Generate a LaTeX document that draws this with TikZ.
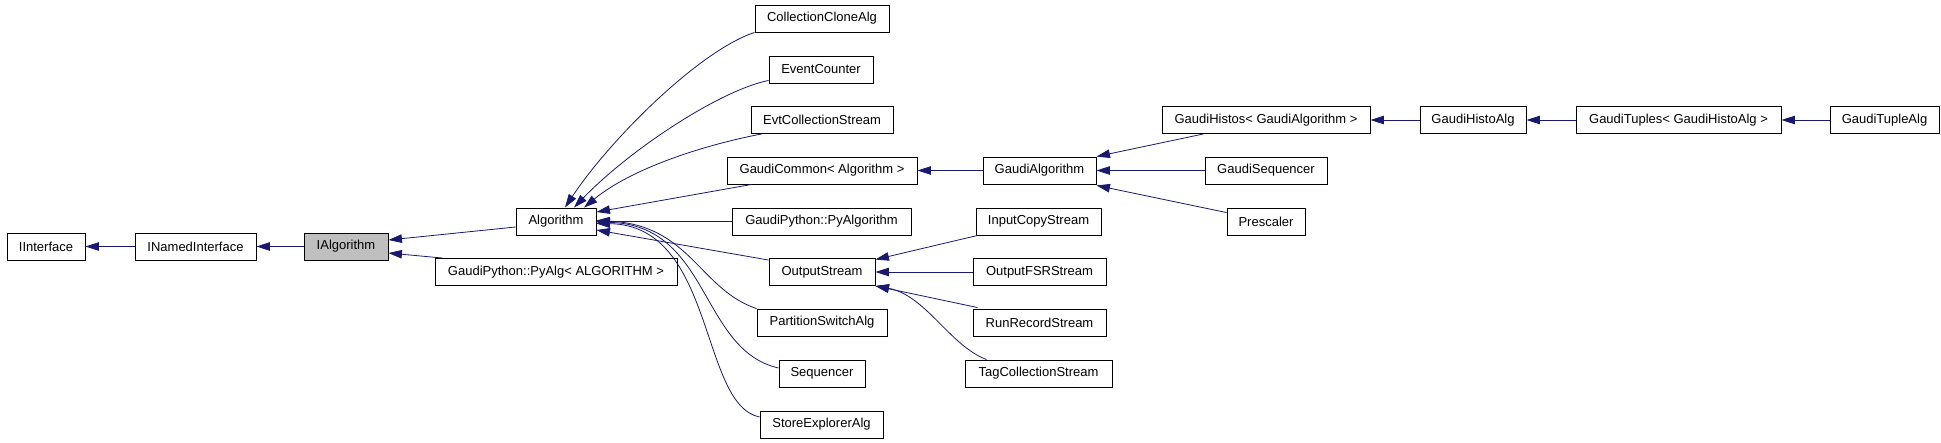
\documentclass[tikz,border=0pt]{standalone}
\usepackage{fontspec}
\setmainfont{Liberation Sans}
\usetikzlibrary{arrows.meta}
\definecolor{edgecol}{HTML}{191970}
\definecolor{hilite}{HTML}{BFBFBF}
\tikzset{
  cls/.style={draw=black, line width=0.9pt, minimum height=27pt, inner sep=0pt,
              font=\fontsize{13}{15}\selectfont},
  edge/.style={draw=edgecol, line width=0.8pt, -{Triangle[length=13.5pt,width=8.5pt]}}
}
\begin{document}
\begin{tikzpicture}[x=1pt,y=-1pt]
\fill[white] (0,0) rectangle (1941,442);
\useasboundingbox (0,0) rectangle (1941,442);
% nodes
\node[cls, minimum width=78pt] (iint) at (46,246.5) {IInterface};
\node[cls, minimum width=121pt] (inamed) at (195.5,246.5) {INamedInterface};
\node[cls, minimum width=84pt, fill=hilite] (ialg) at (346,246.5) {IAlgorithm};
\node[cls, minimum width=80pt] (alg) at (556,221.5) {Algorithm};
\node[cls, minimum width=242pt] (pyalg) at (556,272) {GaudiPython::PyAlg< ALGORITHM >};
\node[cls, minimum width=134pt] (cca) at (822,18.5) {CollectionCloneAlg};
\node[cls, minimum width=104pt] (ec) at (821,69.5) {EventCounter};
\node[cls, minimum width=142pt] (evc) at (822,120) {EvtCollectionStream};
\node[cls, minimum width=190pt] (gc) at (822,170.5) {GaudiCommon< Algorithm >};
\node[cls, minimum width=179pt] (pyalgo) at (821.5,221.5) {GaudiPython::PyAlgorithm};
\node[cls, minimum width=106pt] (os) at (822,272) {OutputStream};
\node[cls, minimum width=130pt] (psa) at (822,322.5) {PartitionSwitchAlg};
\node[cls, minimum width=86pt] (seq) at (822,373.5) {Sequencer};
\node[cls, minimum width=123pt] (sea) at (821.5,424.5) {StoreExplorerAlg};
\node[cls, minimum width=113pt] (ga) at (1039.5,170.5) {GaudiAlgorithm};
\node[cls, minimum width=125pt] (ics) at (1038.5,221.5) {InputCopyStream};
\node[cls, minimum width=133pt] (ofsr) at (1039.5,272) {OutputFSRStream};
\node[cls, minimum width=133pt] (rrs) at (1039.5,322.5) {RunRecordStream};
\node[cls, minimum width=147pt] (tcs) at (1038.5,373.5) {TagCollectionStream};
\node[cls, minimum width=208pt] (gh) at (1266,120) {GaudiHistos< GaudiAlgorithm >};
\node[cls, minimum width=122pt] (gs) at (1266,170.5) {GaudiSequencer};
\node[cls, minimum width=78pt] (pres) at (1266,221.5) {Prescaler};
\node[cls, minimum width=106pt] (gha) at (1473,120) {GaudiHistoAlg};
\node[cls, minimum width=205pt] (gt) at (1678.5,120) {GaudiTuples< GaudiHistoAlg >};
\node[cls, minimum width=109pt] (gta) at (1884.5,120) {GaudiTupleAlg};
% edges (child -> base class)
\draw[edge] (inamed.west) -- (iint.east);
\draw[edge] (ialg.west) -- (inamed.east);
\draw[edge] ([shift={(0,5.5)}]alg.west) -- ([shift={(0,-6.5)}]ialg.east);
\draw[edge] ([shift={(8,0)}]pyalg.north west) -- ([shift={(0,6.5)}]ialg.east);
\draw[edge] (cca.south west) .. controls +(-55,18) and +(45,-68) .. ([shift={(9,0)}]alg.north);
\draw[edge] ([shift={(0,-3)}]ec.south west) .. controls +(-49,10) and +(56,-58) .. ([shift={(18,0)}]alg.north);
\draw[edge] ([shift={(11,0)}]evc.south west) .. controls +(-62,12) and +(46,-38) .. ([shift={(28,0)}]alg.north);
\draw[edge] ([shift={(25,0)}]gc.south west) -- ([shift={(0,-9.5)}]alg.east);
\draw[edge] (pyalgo.west) -- (alg.east);
\draw[edge] ([shift={(0,2)}]os.north west) -- ([shift={(0,8.5)}]alg.east);
\draw[edge] (psa.north west) .. controls +(-57,-19) and +(94,4.5) .. ([shift={(0,-1)}]alg.east);
\draw[edge] ([shift={(0,-5.5)}]seq.west) .. controls +(-79,-18) and +(114,3) .. ([shift={(0,0.5)}]alg.east);
\draw[edge] ([shift={(0,-7.5)}]sea.west) .. controls +(-60,-12) and +(119,1.5) .. ([shift={(0,2)}]alg.east);
\draw[edge] (ga.west) -- (gc.east);
\draw[edge] ([shift={(42,0)}]gh.south west) -- (ga.north east);
\draw[edge] (gs.west) -- (ga.east);
\draw[edge] ([shift={(0,5)}]pres.north west) -- ([shift={(0,1)}]ga.south east);
\draw[edge] ([shift={(2,0)}]ics.south west) -- ([shift={(0,1.5)}]os.north east);
\draw[edge] (ofsr.west) -- (os.east);
\draw[edge] ([shift={(5,-1)}]rrs.north west) -- (os.south east);
\draw[edge] ([shift={(22,0)}]tcs.north west) .. controls +(-37,-14) and +(50,9) .. (os.south east);
\draw[edge] (gha.west) -- (gh.east);
\draw[edge] (gt.west) -- (gha.east);
\draw[edge] (gta.west) -- (gt.east);
\end{tikzpicture}
\end{document}
